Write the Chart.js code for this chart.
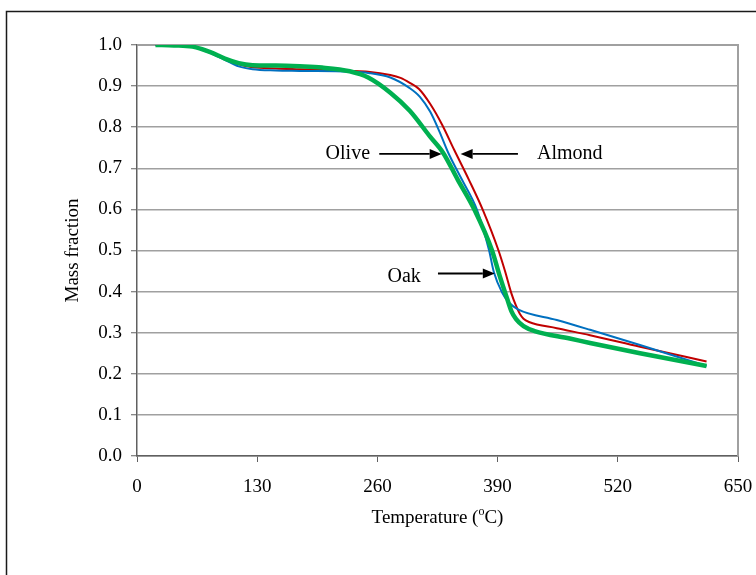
<!DOCTYPE html>
<html><head><meta charset="utf-8">
<script src="https://cdn.jsdelivr.net/npm/chart.js@4/dist/chart.umd.min.js"></script>
<style>html,body{margin:0;padding:0;background:#fff;overflow:hidden}#wrap{width:756px;height:575px;position:relative}</style>
</head><body><div id="wrap"><canvas id="c" width="756" height="575"></canvas></div>
<script>
// Temperature (°C) and mass fraction
const oliveT = [20, 40, 60, 80, 95, 110, 125, 150, 176, 200, 230, 250, 274, 295, 317, 331, 347, 365, 384, 392, 400, 405, 410, 418, 430, 468, 490, 544, 616];
const oliveMass = [1.0, 0.999, 0.996, 0.982, 0.967, 0.956, 0.951, 0.950, 0.948, 0.945, 0.936, 0.921, 0.884, 0.840, 0.777, 0.738, 0.672, 0.599, 0.500, 0.440, 0.385, 0.352, 0.333, 0.316, 0.304, 0.286, 0.275, 0.250, 0.219];

const almondT = [20, 40, 60, 80, 95, 110, 125, 150, 176, 230, 250, 274, 285, 295, 305, 317, 330, 343, 359, 374, 391, 398, 405, 410, 414, 418, 424, 454, 490, 544, 616];
const almondMass = [1.0, 0.999, 0.996, 0.982, 0.966, 0.953, 0.946, 0.943, 0.941, 0.937, 0.935, 0.927, 0.920, 0.908, 0.893, 0.857, 0.806, 0.745, 0.672, 0.599, 0.500, 0.450, 0.395, 0.365, 0.346, 0.334, 0.326, 0.311, 0.294, 0.266, 0.230];

const oakT = [20, 40, 60, 80, 95, 110, 125, 150, 176, 230, 250, 274, 295, 306, 317, 327, 337, 351.5, 367.7, 380.7, 386, 395, 402, 412, 454, 490, 544, 616];
const oakMass = [1.0, 0.999, 0.996, 0.980, 0.964, 0.948, 0.941, 0.938, 0.937, 0.935, 0.932, 0.921, 0.895, 0.874, 0.838, 0.790, 0.736, 0.672, 0.599, 0.501, 0.447, 0.397, 0.374, 0.357, 0.331, 0.307, 0.270, 0.219];

const xTickValues = [0, 130, 260, 390, 520, 650];
const yTickValues = [0.0, 0.1, 0.2, 0.3, 0.4, 0.5, 0.6, 0.7, 0.8, 0.9, 1.0];

// Arrow annotations (data units)
const arrowLabels = ['Olive', 'Almond', 'Oak'];
const labelT = [228, 468, 289];
const labelMass = [0.735, 0.735, 0.436];
const arrowFromT = [262, 412, 325.5];
const arrowToT = [329.5, 350, 387];
const arrowMass = [0.735, 0.735, 0.444];

const xTitle = ['Temperature (', 'o', 'C)'];
const yTitle = 'Mass fraction';

const FONT = '"Liberation Serif", "Times New Roman", serif';

function pts(t, m) { return t.map((v, i) => ({x: v, y: m[i]})); }

const deco = {
  id: 'deco',
  beforeDraw(chart) {
    const ctx = chart.ctx;
    ctx.save();
    ctx.fillStyle = '#fff';
    ctx.fillRect(0, 0, chart.width, chart.height);
    ctx.strokeStyle = '#1a1a1a';
    ctx.lineWidth = 1.5;
    ctx.strokeRect(6.5, 11.5, 900, 700);
    ctx.restore();
  },
  beforeDatasetsDraw(chart) {
    const ctx = chart.ctx, a = chart.chartArea;
    ctx.save();
    ctx.strokeStyle = '#a0a0a0';
    ctx.lineWidth = 2;
    ctx.beginPath();
    ctx.moveTo(a.left, a.top); ctx.lineTo(a.right, a.top); ctx.lineTo(a.right, a.bottom);
    ctx.stroke();
    ctx.restore();
  },
  afterDatasetsDraw(chart) {
    const ctx = chart.ctx, xs = chart.scales.x, ys = chart.scales.y, a = chart.chartArea;
    ctx.save();
    ctx.fillStyle = '#000';
    ctx.strokeStyle = '#000';
    ctx.font = '20px ' + FONT;
    ctx.textAlign = 'center';
    ctx.textBaseline = 'middle';
    arrowLabels.forEach((lab, i) => {
      ctx.fillText(lab, xs.getPixelForValue(labelT[i]), ys.getPixelForValue(labelMass[i]));
      const x0 = xs.getPixelForValue(arrowFromT[i]);
      const x1 = xs.getPixelForValue(arrowToT[i]);
      const y = ys.getPixelForValue(arrowMass[i]);
      const dir = Math.sign(x1 - x0);
      const head = 12;
      ctx.lineWidth = 1.8;
      ctx.beginPath();
      ctx.moveTo(x0, y); ctx.lineTo(x1 - dir * head, y);
      ctx.stroke();
      ctx.beginPath();
      ctx.moveTo(x1, y);
      ctx.lineTo(x1 - dir * head, y - 5);
      ctx.lineTo(x1 - dir * head, y + 5);
      ctx.closePath();
      ctx.fill();
    });
    // axis titles
    ctx.font = '19px ' + FONT;
    ctx.textAlign = 'left';
    ctx.textBaseline = 'middle';
    const ty = a.bottom + 62;
    const w0 = ctx.measureText(xTitle[0]).width;
    ctx.font = '12px ' + FONT;
    const w1 = ctx.measureText(xTitle[1]).width;
    ctx.font = '19px ' + FONT;
    const w2 = ctx.measureText(xTitle[2]).width;
    let tx = (a.left + a.right) / 2 - (w0 + w1 + w2) / 2;
    ctx.fillText(xTitle[0], tx, ty);
    ctx.font = '12px ' + FONT;
    ctx.fillText(xTitle[1], tx + w0, ty - 6);
    ctx.font = '19px ' + FONT;
    ctx.fillText(xTitle[2], tx + w0 + w1, ty);
    ctx.save();
    ctx.translate(a.left - 64, (a.top + a.bottom) / 2);
    ctx.rotate(-Math.PI / 2);
    ctx.textAlign = 'center';
    ctx.fillText(yTitle, 0, 0);
    ctx.restore();
    ctx.restore();
  }
};

new Chart(document.getElementById('c'), {
  type: 'line',
  data: {
    datasets: [
      {label: 'Olive', data: pts(oliveT, oliveMass), borderColor: '#00b050', borderWidth: 4.5, order: 0},
      {label: 'Oak', data: pts(oakT, oakMass), borderColor: '#0070c0', borderWidth: 2, order: 1},
      {label: 'Almond', data: pts(almondT, almondMass), borderColor: '#c00000', borderWidth: 2, order: 2}
    ]
  },
  options: {
    responsive: false,
    animation: false,
    devicePixelRatio: 1,
    layout: {padding: {top: 45, right: 18, bottom: 0, left: 0}},
    elements: {point: {radius: 0}, line: {cubicInterpolationMode: 'monotone', fill: false}},
    plugins: {legend: {display: false}, tooltip: {enabled: false}},
    scales: {
      x: {
        type: 'linear', min: 0, max: 650,
        afterBuildTicks: s => { s.ticks = xTickValues.map(v => ({value: v})); },
        afterFit: s => { s.height = 119; s.paddingLeft = 0; s.paddingRight = 0; },
        ticks: {font: {family: FONT, size: 19}, color: '#000', padding: 14, maxRotation: 0, callback: v => String(v)},
        grid: {drawOnChartArea: false, drawTicks: true, tickLength: 6, tickColor: '#606060', tickWidth: 1},
        border: {color: '#606060', width: 1.5},
        title: {display: false}
      },
      y: {
        type: 'linear', min: 0, max: 1,
        afterBuildTicks: s => { s.ticks = yTickValues.map(v => ({value: v})); },
        afterFit: s => { s.width = 137; s.paddingTop = 0; s.paddingBottom = 0; },
        ticks: {font: {family: FONT, size: 19}, color: '#000', padding: 9, callback: v => Number(v).toFixed(1)},
        grid: {color: '#a0a0a0', lineWidth: 1.5, tickLength: 6, tickColor: '#606060', tickWidth: 1},
        border: {color: '#606060', width: 1.5},
        title: {display: false}
      }
    }
  },
  plugins: [deco]
});
</script></body></html>
